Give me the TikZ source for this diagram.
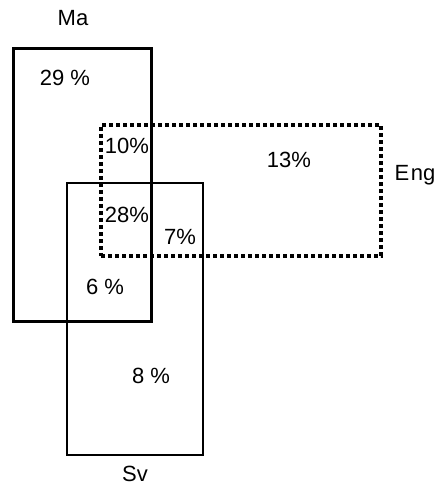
\documentclass[tikz,border=0pt]{standalone}
\usepackage{fontspec}
\setmainfont{Liberation Sans}
\begin{document}
\begin{tikzpicture}[x=1pt,y=-1pt]
	\useasboundingbox (0,0) rectangle (443,486);
	\tikzset{every node/.style={font=\fontsize{22}{26}\selectfont,inner sep=0pt}}
	\begin{scope}[every node/.style={draw,rectangle,inner sep=0pt}]
	\node [line width=1.5pt,minimum width=136pt,minimum height=272pt] (Sv) at (135,319) {};
	\node [line width=4pt,dash pattern=on 4pt off 3pt,minimum width=280pt,minimum height=131pt] (Eng) at (241,190.5) {};
	\node [line width=3pt,minimum width=138pt,minimum height=272pt] (Ma) at (82,185) {};
	\end{scope}
	\node (maL) at (73,18) {Ma};
	\node (engL) at (415,175) {E\hspace{1.5pt}ng};
	\node (svL) at (135,474) {Sv};
	\node (p29) at (65,78) {29 \%};
	\node (p10) at (127,146) {10\%};
	\node (p13) at (289,160) {13\%};
	\node (p28) at (127,215) {28\%};
	\node (p7) at (180,237) {7\%};
	\node (p6) at (105,287) {6 \%};
	\node (p8) at (151,376) {8 \%};
\end{tikzpicture}
\end{document}
